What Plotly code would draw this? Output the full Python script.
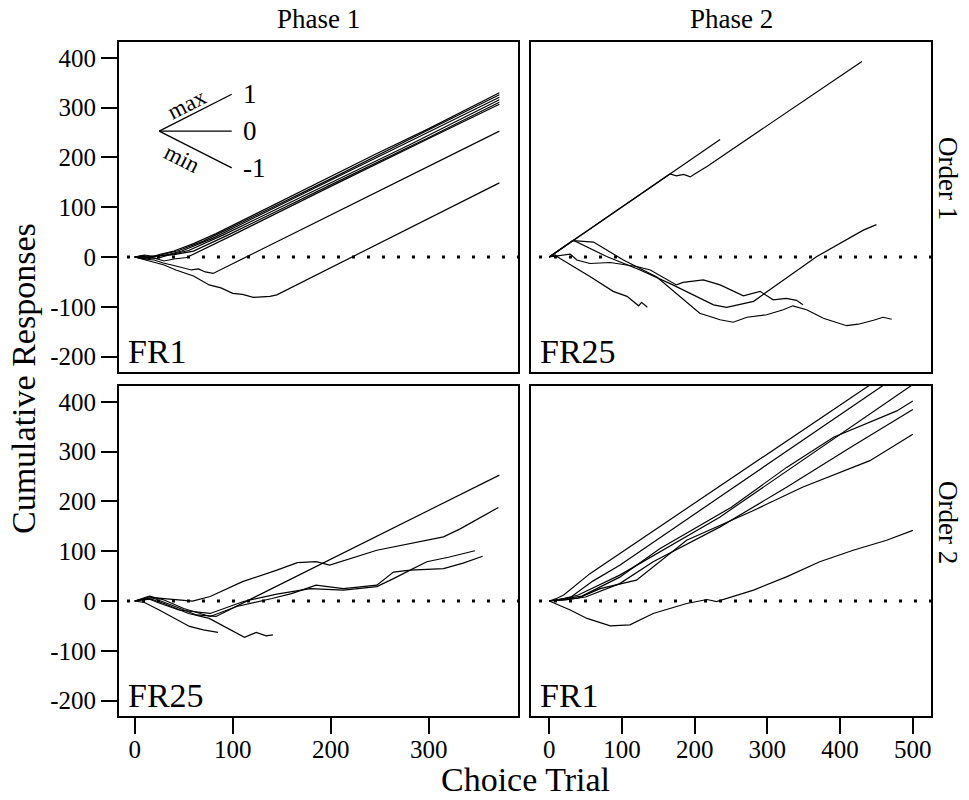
import plotly.graph_objects as go

FONT = "'Liberation Serif', 'Times New Roman', Tinos, 'DejaVu Serif', serif"

# ---------------- data ----------------
# Phase 1 / Order 1  (FR1)
p1o1_x = [
    [0, 8, 15, 25, 40, 60, 83, 150, 200, 246, 300, 372],
    [0, 10, 20, 30, 45, 70, 120, 200, 280, 372],
    [0, 8, 18, 30, 48, 80, 150, 250, 372],
    [0, 12, 22, 35, 55, 90, 180, 280, 372],
    [0, 10, 25, 40, 60, 95, 200, 300, 372],
    [0, 10, 20, 30, 40, 53, 100, 200, 300, 372],
    [0, 10, 20, 29, 40, 50, 58, 65, 72, 80, 372],
    [0, 15, 30, 42, 60, 76, 88, 100, 110, 121, 130, 138, 145, 372],
]
p1o1_y = [
    [0, 3, -2, 5, 12, 27, 47, 113, 163, 207, 258, 330],
    [0, 4, 1, 6, 13, 32, 80, 157, 236, 326],
    [0, -3, 2, 3, 12, 38, 106, 203, 321],
    [0, 2, -3, 4, 13, 44, 130, 225, 316],
    [0, -2, 3, 5, 12, 44, 145, 240, 311],
    [0, -4, -2, -8, -4, -1, 44, 142, 238, 307],
    [0, -4, -6, -12, -17, -22, -26, -24, -30, -33, 253],
    [0, -8, -16, -26, -38, -56, -62, -73, -75, -81, -80, -79, -76, 149],
]

# Phase 2 / Order 1  (FR25)
p2o1_x = [
    [0, 235],
    [0, 166, 175, 185, 194, 200, 217, 430],
    [0, 8, 15, 56, 88, 107, 123, 127, 135],
    [0, 29, 38, 56, 84, 120, 139, 175, 184, 212, 235, 267, 290, 308, 326, 340, 349],
    [0, 33, 79, 125, 170, 226, 244, 262, 281, 368, 432, 450],
    [0, 33, 61, 102, 148, 207, 235, 253, 272, 299, 322, 335, 354, 377, 409, 425, 446, 459, 471],
]
p2o1_y = [
    [0, 236],
    [0, 167, 163, 166, 161, 167, 182, 393],
    [0, 4, -3, -39, -69, -79, -98, -91, -101],
    [0, 6, -6, -13, -11, -19, -26, -56, -51, -46, -56, -78, -69, -86, -83, -87, -96],
    [0, 34, 1, -26, -56, -96, -101, -95, -89, 1, 54, 65],
    [0, 33, 30, -6, -40, -113, -126, -131, -121, -116, -106, -98, -106, -123, -138, -135, -127, -121, -125],
]

# Phase 1 / Order 2  (FR25)
p1o2_x = [
    [0, 20, 40, 63, 83, 372],
    [0, 15, 30, 45, 59, 77, 110, 145, 166, 185, 199, 247, 280, 315, 332, 371],
    [0, 15, 30, 50, 77, 104, 140, 160, 185, 213, 247, 264, 281, 298, 320, 347],
    [0, 12, 25, 45, 77, 111, 145, 179, 213, 247, 264, 281, 315, 335, 355],
    [0, 15, 30, 55, 76, 112, 124, 134, 141],
    [0, 10, 25, 56, 70, 85],
]
p1o2_y = [
    [0, 5, -10, -28, -31, 253],
    [0, 8, 5, 3, 0, 9, 39, 62, 77, 79, 72, 102, 115, 129, 145, 188],
    [0, 10, 2, -15, -31, -11, 5, 15, 32, 25, 32, 58, 62, 79, 88, 101],
    [0, 6, -4, -18, -25, -1, 14, 25, 22, 29, 45, 62, 65, 76, 90],
    [0, 5, -5, -25, -35, -73, -63, -70, -68],
    [0, -3, -18, -51, -58, -63],
]

# Phase 2 / Order 2  (FR1)
p2o2_x = [
    [0, 10, 20, 56, 445],
    [0, 15, 30, 60, 97, 462],
    [0, 20, 40, 97, 235, 500],
    [0, 20, 45, 97, 152, 250, 327, 391, 455, 478, 500],
    [0, 20, 50, 97, 143, 235, 327, 418, 500],
    [0, 15, 40, 70, 120, 189, 281, 349, 441, 500],
    [0, 29, 52, 84, 111, 143, 189, 217, 230, 281, 327, 372, 418, 464, 500],
]
p2o2_y = [
    [0, 5, 12, 55, 438],
    [0, 3, 8, 40, 72, 436],
    [0, 5, 12, 52, 169, 435],
    [0, 4, 10, 48, 105, 188, 269, 329, 369, 382, 402],
    [0, 2, 8, 35, 79, 149, 229, 312, 385],
    [0, 3, 6, 25, 42, 122, 182, 229, 282, 335],
    [0, -18, -35, -50, -48, -25, -5, 3, -1, 22, 49, 79, 102, 122, 142],
]

phase_labels = ["Phase 1", "Phase 2"]
order_labels = ["Order 1", "Order 2"]
schedule_labels = [["FR1", "FR25"], ["FR25", "FR1"]]
x_ticks = [[0, 100, 200, 300], [0, 100, 200, 300, 400, 500]]
x_ticktext = [["0", "100", "200", "300"], ["0", "100", "200", "300", "400", "500"]]
y_ticks = [-200, -100, 0, 100, 200, 300, 400]
y_ticktext = ["-200", "-100", "0", "100", "200", "300", "400"]
x_ranges = [[-16, 391], [-25, 525]]
y_range = [-231, 432]
legend_values = ["1", "0", "-1"]

panels = [
    (0, 0, p1o1_x, p1o1_y),
    (0, 1, p2o1_x, p2o1_y),
    (1, 0, p1o2_x, p1o2_y),
    (1, 1, p2o2_x, p2o2_y),
]

# ---------------- layout geometry ----------------
W, H = 969, 800
col_dom = [[119 / W, 518 / W], [531 / W, 931 / W]]
row_dom = [[1 - 372 / H, 1 - 42 / H], [1 - 716 / H, 1 - 386 / H]]
order_label_y = [1 - 178 / H, 1 - 522 / H]

fig = go.Figure()
layout = dict(
    width=W, height=H,
    margin=dict(l=0, r=0, t=0, b=0),
    paper_bgcolor="white", plot_bgcolor="white",
    showlegend=False,
    font=dict(family=FONT, color="black", size=26),
)
shapes = []
annotations = []

for (r, c, xs, ys) in panels:
    idx = r * 2 + c + 1
    xa = "x" if idx == 1 else f"x{idx}"
    ya = "y" if idx == 1 else f"y{idx}"
    xkey = "xaxis" if idx == 1 else f"xaxis{idx}"
    ykey = "yaxis" if idx == 1 else f"yaxis{idx}"
    for xv, yv in zip(xs, ys):
        fig.add_trace(go.Scatter(x=xv, y=yv, mode="lines", xaxis=xa, yaxis=ya,
                                 line=dict(color="black", width=1.2),
                                 hoverinfo="skip"))
    bottom = (r == 1)
    left = (c == 0)
    layout[xkey] = dict(
        domain=col_dom[c], anchor=ya, range=x_ranges[c],
        showgrid=False, zeroline=False,
        showline=True, mirror=True, linecolor="black", linewidth=2,
        ticks="outside" if bottom else "", ticklen=16, tickwidth=2, tickcolor="black",
        tickmode="array",
        tickvals=x_ticks[c] if bottom else [], ticktext=x_ticktext[c] if bottom else [],
        showticklabels=bottom, ticklabelstandoff=-6,
        tickfont=dict(family=FONT, size=25, color="black"),
    )
    layout[ykey] = dict(
        domain=row_dom[r], anchor=xa, range=y_range,
        showgrid=False, zeroline=False,
        showline=True, mirror=True, linecolor="black", linewidth=2,
        ticks="outside" if left else "", ticklen=16, tickwidth=2, tickcolor="black",
        tickmode="array",
        tickvals=y_ticks if left else [], ticktext=y_ticktext if left else [],
        showticklabels=left,
        tickfont=dict(family=FONT, size=25, color="black"),
    )
    # dotted zero reference line
    shapes.append(dict(type="line", xref=f"{xa} domain", yref=ya,
                       x0=0.02, x1=1.0, y0=0, y1=0, layer="below",
                       line=dict(color="black", width=3, dash="3px,12px")))
    # schedule label
    annotations.append(dict(text=schedule_labels[r][c], xref=f"{xa} domain",
                            yref=f"{ya} domain", x=0.018, y=0.0,
                            xanchor="left", yanchor="bottom", showarrow=False,
                            font=dict(family=FONT, size=34, color="black")))

# legend glyph (top-left panel)
lg_cx, lg_cy, lg_dx, lg_dy = 25, 253, 74, 74
for k, v in enumerate(legend_values):
    yend = lg_cy + lg_dy * (1 - k)
    shapes.append(dict(type="line", xref="x", yref="y", x0=lg_cx, y0=lg_cy,
                       x1=lg_cx + lg_dx, y1=yend, line=dict(color="black", width=1.3)))
    annotations.append(dict(text=v, xref="x", yref="y", x=lg_cx + lg_dx + 9,
                            y=yend, xanchor="left", yanchor="middle", showarrow=False,
                            font=dict(family=FONT, size=27, color="black")))
annotations.append(dict(text="max", xref="x", yref="y", x=lg_cx + 28, y=lg_cy + 53,
                        textangle=-27, showarrow=False,
                        font=dict(family=FONT, size=23, color="black")))
annotations.append(dict(text="min", xref="x", yref="y", x=lg_cx + 23, y=lg_cy - 55,
                        textangle=27, showarrow=False,
                        font=dict(family=FONT, size=23, color="black")))

# strip labels
for c, lab in enumerate(phase_labels):
    annotations.append(dict(text=lab, xref="paper", yref="paper",
                            x=sum(col_dom[c]) / 2, y=1 - 19 / H,
                            xanchor="center", yanchor="middle", showarrow=False,
                            font=dict(family=FONT, size=27, color="black")))
for r, lab in enumerate(order_labels):
    annotations.append(dict(text=lab, xref="paper", yref="paper",
                            x=948 / W, y=order_label_y[r], textangle=90,
                            xanchor="center", yanchor="middle", showarrow=False,
                            font=dict(family=FONT, size=27, color="black")))

# axis titles
annotations.append(dict(text="Choice Trial", xref="paper", yref="paper",
                        x=(col_dom[0][0] + col_dom[1][1]) / 2, y=1 - 779 / H,
                        xanchor="center", yanchor="middle", showarrow=False,
                        font=dict(family=FONT, size=34, color="black")))
annotations.append(dict(text="Cumulative Responses", xref="paper", yref="paper",
                        x=23 / W, y=(row_dom[1][0] + row_dom[0][1]) / 2, textangle=-90,
                        xanchor="center", yanchor="middle", showarrow=False,
                        font=dict(family=FONT, size=34, color="black")))

layout["shapes"] = shapes
layout["annotations"] = annotations
fig.update_layout(**layout)
fig.write_html("out.html", config={"displayModeBar": False},
               post_script="document.body.style.margin='0';document.body.style.padding='0';")
